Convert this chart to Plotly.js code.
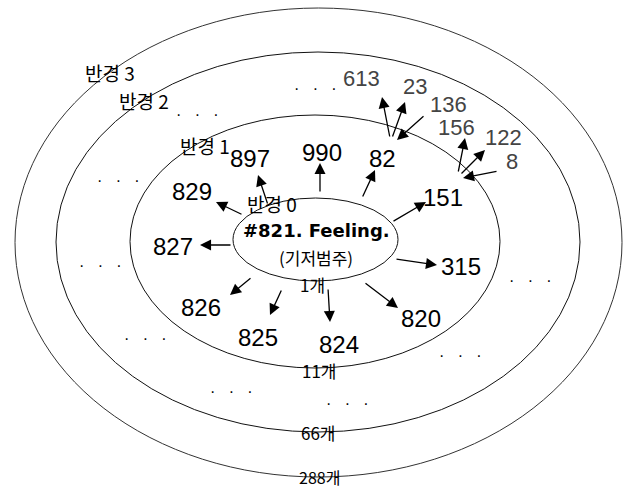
<!DOCTYPE html>
<html><head><meta charset="utf-8">
<script src="https://cdn.plot.ly/plotly-3.0.1.min.js"></script>
<style>html,body{margin:0;padding:0;background:#fff}#c{width:625px;height:490px}</style>
</head><body><div id="c"></div>
<script>
// Ring ellipses (반경 0..3): bounding boxes in picture coordinates
const ringX0 = [233, 130, 56, 15];
const ringX1 = [398, 500, 580, 622];
const ringY0 = [198, 115, 52, 8];
const ringY1 = [281, 368, 432, 477];
const ringNames = ['반경 0', '반경 1', '반경 2', '반경 3'];
const ringNameX = [272, 205, 144, 110];
const ringNameY = [203, 145, 100, 72];
const ringCounts = ['1개', '11개', '66개', '288개'];
const ringCountX = [312, 319, 318, 319];
const ringCountY = [284, 370, 432, 477];

// Radius-1 categories
const innerLabels = ['897', '990', '82', '829', '827', '151', '315', '826', '825', '824', '820'];
const innerX = [250, 322, 382, 192, 173, 443, 461, 201, 258, 339, 421];
const innerY = [158, 152, 158, 191, 246, 197, 266, 307, 337, 344, 318];
const innerTailX = [268, 320, 362, 243, 232, 392, 395, 252, 282, 328, 364];
const innerTailY = [205, 193, 198, 215, 245, 222, 259, 277, 289, 288, 282];
const innerHeadX = [258, 320, 375, 216, 200, 426, 437, 230, 270, 330, 398];
const innerHeadY = [175, 163, 170, 202, 245, 202, 265, 295, 315, 322, 308];

// Radius-2 categories
const outerLabels = ['613', '23', '136', '156', '122', '8'];
const outerX = [361, 415, 448, 456, 503, 512];
const outerY = [78, 86, 104, 127, 137, 161];
const outerTailX = [390, 392, 425, 458, 460, 498];
const outerTailY = [138, 138, 115, 173, 175, 171];
const outerHeadX = [382, 405, 397, 465, 485, 463];
const outerHeadY = [97, 102, 140, 138, 150, 178];

// Ellipsis markers
const dotsX = [197, 315, 118, 100, 145, 530, 460, 231, 347];
const dotsY = [114, 88, 180, 265, 338, 280, 355, 391, 403];

const centerTitle = '#821. Feeling.';
const centerSub = '(기저범주)';

const numFont = 'Liberation Sans Narrow, Arial Narrow, Liberation Sans, sans-serif';
const krFont = 'Noto Sans CJK KR, sans-serif';

const shapes = ringX0.map((x0, i) => ({
  type: 'circle', xref: 'x', yref: 'y',
  x0: x0, x1: ringX1[i], y0: ringY0[i], y1: ringY1[i],
  line: {color: i === 3 ? '#333' : '#111', width: 1}
}));

const ann = [];
function txt(t, x, y, size, family, color) {
  ann.push({text: t, x: x, y: y, xref: 'x', yref: 'y', showarrow: false,
    xanchor: 'center', yanchor: 'middle', borderpad: 0,
    font: {size: size, family: family, color: color}});
}
function arr(tx, ty, hx, hy) {
  ann.push({text: '', x: hx, y: hy, ax: tx, ay: ty, xref: 'x', yref: 'y', axref: 'x', ayref: 'y',
    showarrow: true, arrowhead: 2, arrowsize: 1.7, arrowwidth: 1.3, arrowcolor: '#000', standoff: 0, startstandoff: 0});
}
ringNames.forEach((t, i) => txt(t, ringNameX[i], ringNameY[i], 19, krFont, '#000'));
ringCounts.forEach((t, i) => txt(t, ringCountX[i], ringCountY[i], i === 3 ? 16 : 17, krFont, '#000'));
innerLabels.forEach((t, i) => {
  txt(t, innerX[i], innerY[i], 24, numFont, '#000');
  arr(innerTailX[i], innerTailY[i], innerHeadX[i], innerHeadY[i]);
});
outerLabels.forEach((t, i) => {
  txt(t, outerX[i], outerY[i], 22, numFont, '#444');
  arr(outerTailX[i], outerTailY[i], outerHeadX[i], outerHeadY[i]);
});
dotsX.forEach((x, i) => txt('·   ·   ·', x, dotsY[i], 16, 'Liberation Sans, sans-serif', '#000'));
txt('<b>' + centerTitle + '</b>', 316, 230, 18, 'DejaVu Sans, Liberation Sans, sans-serif', '#000');
txt(centerSub, 316, 257, 17, krFont, '#000');

Plotly.newPlot('c', [{x: [], y: [], type: 'scatter', hoverinfo: 'skip'}], {
  width: 625, height: 490,
  margin: {l: 0, r: 0, t: 0, b: 0},
  paper_bgcolor: '#fff', plot_bgcolor: '#fff',
  xaxis: {range: [0, 625], visible: false, fixedrange: true},
  yaxis: {range: [490, 0], visible: false, fixedrange: true},
  showlegend: false,
  shapes: shapes,
  annotations: ann
}, {displayModeBar: false, staticPlot: true});
</script></body></html>
